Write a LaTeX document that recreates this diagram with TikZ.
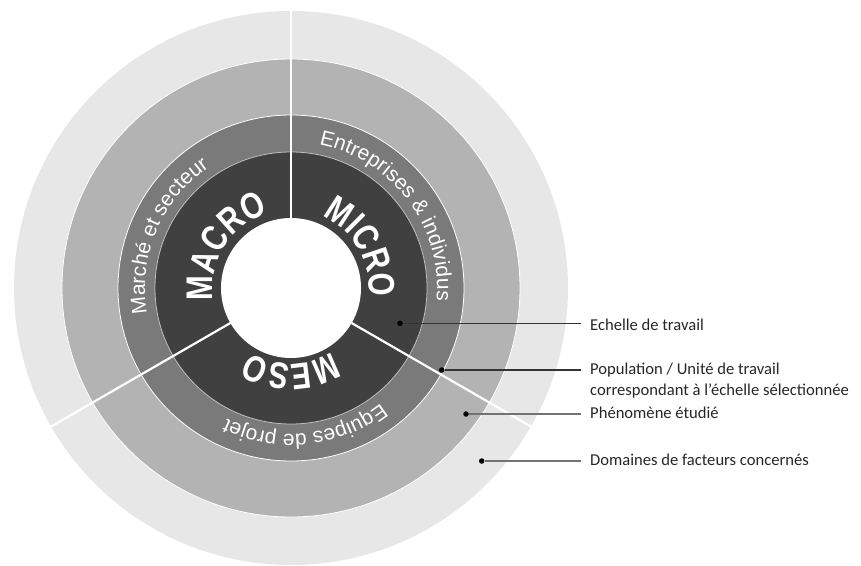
\documentclass[tikz,border=0pt]{standalone}
\usepackage{fontspec}
\usetikzlibrary{decorations.text}
\newfontfamily\lblfont{Carlito}
\newfontfamily\ringfont{Liberation Sans}
\newfontfamily\bigfont{Liberation Sans Bold}[FakeStretch=0.8]
\definecolor{ringA}{HTML}{E7E7E7}
\definecolor{ringB}{HTML}{B3B3B3}
\definecolor{ringC}{HTML}{7A7A7A}
\definecolor{ringD}{HTML}{404040}
\tikzset{
  dotmark/.style={circle, fill=black, inner sep=0pt, minimum size=5.5pt},
  lbl/.style={anchor=base west, inner sep=0pt, font=\lblfont\fontsize{16.6}{20}\selectfont, text=black!85},
  conn/.style={line width=1.1pt, shorten >=9pt},
  divider/.style={white, line width=2.2pt},
  ringedge/.style={white, line width=0.8pt},
  curvetext/.style={decorate, decoration={text along path, text align=center, text color=white}}
}
\begin{document}
\begin{tikzpicture}[x=1pt,y=1pt]
\useasboundingbox (-291,-277) rectangle (570,288);
\begin{scope}
\clip (-291,-277) rectangle (570,288);
\fill[ringA] (0,0) circle (277);
\fill[ringB] (0,0) circle (229);
\fill[ringC] (0,0) circle (173);
\fill[ringD] (0,0) circle (136);
\draw[ringedge] (0,0) circle (229);
\draw[ringedge] (0,0) circle (173);
\draw[ringedge, opacity=0.6] (0,0) circle (136);
\fill[white] (0,0) circle (70);
\draw[divider] (90:70) -- (90:278);
\draw[divider] (210:70) -- (210:278);
\draw[divider] (-30:70) -- (-30:278);
\end{scope}
% ring texts
\path[curvetext, decoration={text={|\ringfont\fontsize{21}{22}\selectfont|Marché et secteur}}]
  (217:146) arc[start angle=217, end angle=97, radius=146];
\path[curvetext, decoration={text={|\ringfont\fontsize{21}{22}\selectfont|Entreprises {\&} individus}}]
  (97:146) arc[start angle=97, end angle=-23, radius=146];
\path[curvetext, decoration={text={|\ringfont\fontsize{21}{22}\selectfont|Equipes de projet}}]
  (336:146) arc[start angle=336, end angle=216, radius=146];
% big texts
\path[curvetext, decoration={text={|\bigfont\fontsize{37}{39}\selectfont|MACRO}}]
  (208:78) arc[start angle=208, end angle=88, radius=78];
\path[curvetext, decoration={text={|\bigfont\fontsize{37}{39}\selectfont|MICRO}}]
  (90:78) arc[start angle=90, end angle=-30, radius=78];
\path[curvetext, decoration={text={|\bigfont\fontsize{37}{39}\selectfont|MESO}}]
  (330:76) arc[start angle=330, end angle=210, radius=76];
% labels
\node[lbl] (l1) at (299,-42) {Echelle de travail};
\node[lbl] (l2) at (299,-86) {Population / Unité de travail};
\node[lbl] (l2b) at (299,-107.7) {correspondant à l’échelle sélectionnée};
\node[lbl] (l3) at (299,-130.3) {Phénomène étudié};
\node[lbl] (l4) at (299,-177.7) {Domaines de facteurs concernés};
% dots
\node[dotmark] (d1) at (109,-35.3) {};
\node[dotmark] (d2) at (150.7,-82) {};
\node[dotmark] (d3) at (175,-126) {};
\node[dotmark] (d4) at (190.7,-173) {};
\draw[conn, black!80] (d1) -- (d1 -| l1.west);
\draw[conn, black!80] (d2) -- (d2 -| l2.west);
\draw[conn, black!55] (d3) -- (d3 -| l3.west);
\draw[conn, black!55] (d4) -- (d4 -| l4.west);
\end{tikzpicture}
\end{document}
